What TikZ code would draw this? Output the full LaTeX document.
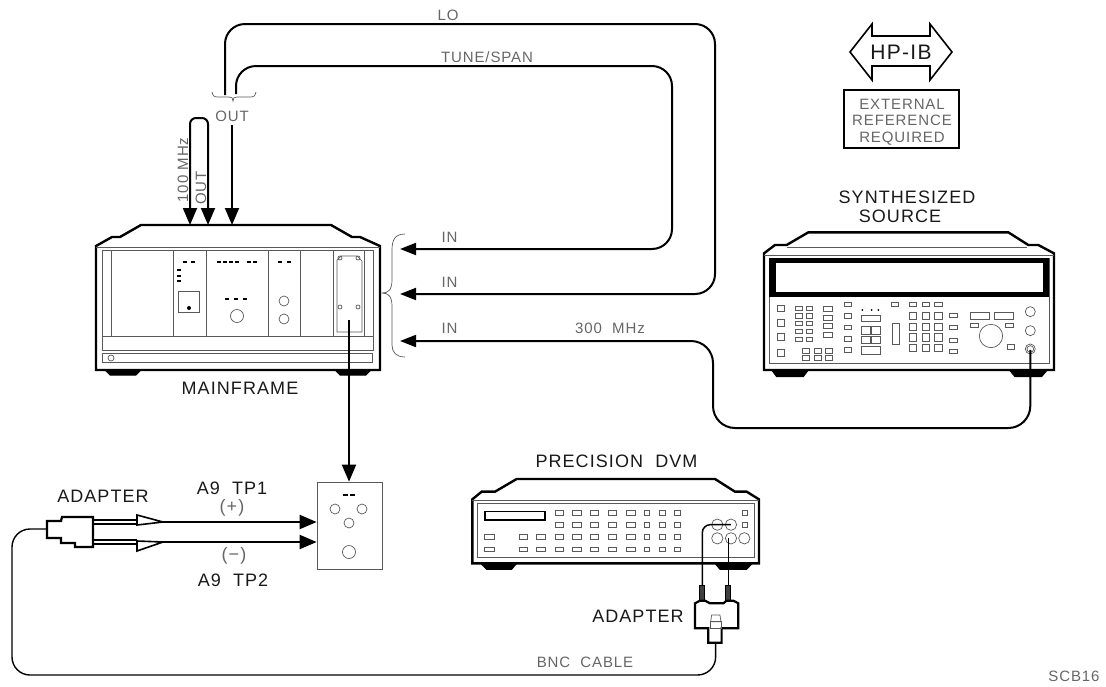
\documentclass[tikz,border=0pt]{standalone}
\usepackage{fontspec}
\setmainfont{Liberation Sans}[LetterSpace=6]
\usepackage{tikz}
\usetikzlibrary{arrows.meta, positioning}
\newcommand{\btn}[4]{\draw[panel] ({#1-#3/2},{#2-#4/2}) rectangle ({#1+#3/2},{#2+#4/2});}
\begin{document}
\begin{tikzpicture}[
    x=1pt, y=-1pt,
    bigtxt/.style={font=\fontsize{18}{20}\selectfont, inner sep=0pt, text=black!90},
    smalltxt/.style={font=\fontsize{15}{17}\selectfont, inner sep=0pt, text=black!60},
    panel/.style={line width=0.7pt, draw=black!65},
    case/.style={line width=2.4pt, line join=miter, draw=black},
    foot/.style={fill=black, draw=black, line width=1pt},
    cable/.style={line width=2pt, draw=black},
    arr/.style={cable, -{Triangle[length=17pt, width=14pt]}},
    inarr/.style={cable, -{Triangle[length=16pt, width=12pt]}},
    zoomed/.style={x=0.3333pt, y=-0.3333pt}
]
    \useasboundingbox (0,0) rectangle (1106,686);

    \node[smalltxt] (lo) at (448,15) {LO};
    \node[smalltxt] (tunespan) at (487,57) {TUNE/SPAN};
    \node[smalltxt] (outtop) at (232,116) {OUT};
    \node[smalltxt, rotate=90] (mhz) at (183,170) {100 MHz};
    \node[smalltxt, rotate=90] (outrot) at (201,188) {OUT};
    \node[smalltxt] (intune) at (449.5,237) {IN};
    \node[smalltxt] (inlo) at (449.5,282) {IN};
    \node[smalltxt] (inref) at (449.5,328) {IN};
    \node[smalltxt] (mhzb) at (610,328) {300\ \ MHz};
    \node[bigtxt] (mainframe) at (240,388) {MAINFRAME};
    \node[bigtxt] (synth) at (907,197) {SYNTHESIZED};
    \node[bigtxt, below=6pt of synth, xshift=-7pt] (source) {SOURCE};
    \node[bigtxt] (dvm) at (616.5,461) {PRECISION\ \ DVM};
    \node[bigtxt] (adapterl) at (103,496) {ADAPTER};
    \node[bigtxt] (adapterr) at (638,616) {ADAPTER};
    \node[bigtxt] (tpa) at (232,488) {A9\ \ TP1};
    \node[smalltxt, font=\fontsize{18}{20}\selectfont] (plus) at (232,508) {(+)};
    \node[smalltxt, font=\fontsize{18}{20}\selectfont] (minus) at (234,556) {(−)};
    \node[bigtxt] (tpb) at (233,580) {A9\ \ TP2};
    \node[smalltxt] (bnc) at (585,662) {BNC\ \ CABLE};
    \node[smalltxt] (scb) at (1074,676) {SCB16};

    \draw[line width=1.6pt] (850,52) -- (872,24) -- (872,36) -- (930,36) -- (930,24) -- (952,52)
        -- (930,80) -- (930,66) -- (872,66) -- (872,80) -- cycle;
    \node[bigtxt, font=\fontsize{21}{23}\selectfont] (hpib) at (901,52) {HP-IB};
    \node[draw, line width=1.6pt, minimum width=115pt, minimum height=58pt, inner sep=0pt] (extbox) at (901.5,119) {};
    \node[smalltxt] (ext) at (902,104) {EXTERNAL};
    \node[smalltxt, below=5.5pt of ext] (refer) {REFERENCE};
    \node[smalltxt, below=5.5pt of refer] (req) {REQUIRED};

    % mainframe
    \draw[case] (96,370) -- (96,246) -- (112,237) -- (120,237) -- (141,225) -- (331,225) -- (352,237)
        -- (360,237) -- (380,246) -- (380,370) -- cycle;
    \draw[foot] (105,370) -- (110,375) -- (136,375) -- (141,370) -- cycle;
    \draw[foot] (335,370) -- (340,375) -- (366,375) -- (371,370) -- cycle;
    \draw[panel] (96,247) -- (380,247);
    \draw[panel] (102,250) rectangle (373,350);
    \draw[panel] (102,336) -- (373,336);
    \foreach \px in {111,173,206,268,300,333,364}
        \draw[panel] (\px,250) -- (\px,336);
    \draw[panel] (102,353) rectangle (372,362);
    \draw[panel] (111,358) circle[radius=3];
    \foreach \px/\py in {183/262,191/262,217/262,223/262,229/262,235/262,247/262,253/262,
        225/299,234/299,243/299,278/262,287/262}
        \draw[line width=1.6pt] (\px,\py) -- ++(4,0);
    \foreach \py in {270,276,281}
        \draw[line width=1.6pt] (177,\py) -- ++(4,0);
    \draw[panel] (178,291) rectangle (199,312);
    \fill (189,308) circle[radius=2];
    \draw[panel] (237,316) circle[radius=6.5];
    \draw[panel] (284,301) circle[radius=5];
    \draw[panel] (284,319) circle[radius=5];
    \draw[panel] (341,256) -- (357,256) -- (362,261) -- (362,332) -- (337,332) -- (337,260) -- cycle;
    \foreach \px/\py in {340/258,358/258,340/307,358/307}
        \draw[panel] (\px,\py) circle[radius=2];

    % source
    \begin{scope}[shift={(750,180)}, zoomed]
        \draw[case] (42,570) -- (42,220) -- (75,195) -- (110,195) -- (175,157) -- (775,157) -- (835,195)
            -- (865,195) -- (912,220) -- (912,570) -- cycle;
        \draw[foot] (65,570) -- (80,590) -- (160,590) -- (175,570) -- cycle;
        \draw[foot] (778,570) -- (795,590) -- (875,590) -- (892,570) -- cycle;
        \draw[panel] (110,203) -- (830,203);
        \draw[panel] (42,225) -- (912,225);
        \draw[panel] (57,235) rectangle (897,550);
        \fill (57,235) rectangle (897,350);
        \fill[white] (78,250) rectangle (880,335);
        \foreach \py in {385,428,470,518} {\btn{93}{\py}{22}{20}}
        \foreach \px in {147,178} \foreach \py in {385,407,430,454,478} {\btn{\px}{\py}{20}{14}}
        \foreach \py in {387,413,438,465} {\btn{233}{\py}{28}{14}}
        \foreach \py in {373,408,442,477,510} {\btn{293}{\py}{20}{14}}
        \foreach \px in {337,365,385} \fill (\px,390) circle[radius=3];
        \draw[panel] (333,407) rectangle (390,425);
        \foreach \px in {348,377} \foreach \py in {451,480} {\btn{\px}{\py}{26}{22}}
        \draw[panel] (333,500) rectangle (390,522);
        \foreach \px in {167,203,236} \foreach \py in {512,534} {\btn{\px}{\py}{22}{14}}
        \btn{435}{373}{20}{14}
        \foreach \px in {489,527,565} {\btn{\px}{372}{22}{12}}
        \draw[panel] (427,430) rectangle (447,492);
        \foreach \px in {489,527,565} \foreach \py in {407,440,472,504} {\btn{\px}{\py}{22}{22}}
        \foreach \py in {407,443,480,513} {\btn{610}{\py}{22}{12}}
        \draw[panel] (660,398) rectangle (718,418);
        \draw[panel] (733,398) rectangle (790,418);
        \btn{674}{435}{24}{12}
        \btn{778}{435}{24}{12}
        \draw[panel] (723,468) circle[radius=35];
        \btn{782}{501}{22}{14}
        \foreach \py in {395,452,507} \draw[panel] (841,\py) circle[radius=15];
        \draw[panel] (841,507) circle[radius=10];
        \coordinate (srcjack) at (841,510);
    \end{scope}

    % dvm
    \begin{scope}[shift={(460,440)}, zoomed]
        \draw[case] (37,370) -- (37,178) -- (65,155) -- (105,155) -- (170,117) -- (765,117) -- (825,155)
            -- (860,155) -- (897,178) -- (897,370) -- cycle;
        \draw[foot] (62,370) -- (80,388) -- (155,388) -- (170,370) -- cycle;
        \draw[foot] (765,370) -- (780,388) -- (860,388) -- (877,370) -- cycle;
        \draw[panel] (37,180) -- (897,180);
        \draw[panel] (52,190) rectangle (882,352);
        \draw[line width=1.2pt] (75,215) rectangle (255,240);
        \foreach \py in {219,254,291,328} {
            \foreach \px in {298,350,403,457,513} {\btn{\px}{\py}{26}{14}}
            \foreach \px in {560,607,652} {\btn{\px}{\py}{16}{14}}
        }
        \foreach \py in {291,328} {
            \btn{88}{\py}{28}{14}
            \btn{190}{\py}{26}{14}
            \btn{243}{\py}{26}{14}
        }
        \foreach \py in {219,255} {\btn{855}{\py}{16}{16}}
        \foreach \px/\py in {772/254,813/254,772/295,813/295,853/295}
            \draw[panel] (\px,\py) circle[radius=17];
        \coordinate (dvmhi) at (813,254);
        \coordinate (dvmlo) at (805,295);
        \coordinate (plughi) at (727,436);
        \coordinate (pluglo) at (805,436);
        \coordinate (bncend) at (767,610);
        \draw[line width=1.5pt, rounded corners=8pt] (dvmhi) -| (plughi);
        \draw[line width=1.5pt] (dvmlo) -- (pluglo);
        \foreach \px in {727,805}
            \draw[fill=black!75, line width=1pt] (\px-7,436) rectangle (\px+7,482);
        \draw[line width=2.2pt, fill=white] (705,490) -- (720,482) -- (735,482) -- (750,490) -- (790,490)
            -- (800,482) -- (820,482) -- (835,490) -- (835,565) -- (785,565) -- (785,608) -- (745,608)
            -- (745,565) -- (705,565) -- cycle;
        \draw[panel] (752,545) -- (755,525) -- (780,525) -- (783,545) -- cycle;
        \draw[panel] (752,545) rectangle (783,565);
    \end{scope}

    % test box
    \node[draw, panel, minimum width=65pt, minimum height=87pt, inner sep=0pt] (tbox) at (349.5,525.5) {};
    \draw[line width=1.6pt] (343,495) -- ++(5,0) (350,495) -- ++(5,0);
    \draw[panel] (335,509) circle[radius=5];
    \draw[panel] (362,509) circle[radius=5];
    \draw[panel] (349,523) circle[radius=5];
    \draw[panel] (349,552) circle[radius=6.5];

    % left adapter
    \draw[line width=1.2pt] (93,520) -- (137,520) (93,524) -- (137,524);
    \draw[line width=1.2pt] (93,540) -- (137,540) (93,544) -- (137,544);
    \draw[line width=1.6pt, fill=white] (137,515) -- (163,522) -- (137,525) -- cycle;
    \draw[line width=1.6pt, fill=white] (137,541) -- (163,542) -- (137,551) -- cycle;
    \draw[line width=2.2pt, fill=white] (47,521) -- (61,521) -- (62,517) -- (93,517) -- (93,547) -- (75,547)
        -- (75,543) -- (61,543) -- (61,538) -- (47,538) -- cycle;

    % connectors
    \coordinate (loout) at (225,95);
    \coordinate (lobend) at (715,24);
    \coordinate (inlotip) at (400,294);
    \coordinate (tuneout) at (236,94);
    \coordinate (tunebend) at (672,66);
    \coordinate (intunetip) at (400,249);
    \coordinate (refbend) at (713,428);
    \coordinate (inreftip) at (400,341);
    \coordinate (mfa) at (190,225);
    \coordinate (mfb) at (208,225);
    \coordinate (mfc) at (232,225);
    \coordinate (loopa) at (190,118);
    \coordinate (loopb) at (208,118);
    \coordinate (outstart) at (232,125);
    \coordinate (modstart) at (349,320);
    \coordinate (tpaend) at (163,522);
    \coordinate (tpbend) at (163,542);
    \coordinate (adapterend) at (47,529);
    \coordinate (leftbend) at (12,675);
    \draw[inarr, rounded corners=20pt] (loout) |- (lobend) |- (inlotip);
    \draw[inarr, rounded corners=20pt] (tuneout) |- (tunebend) |- (intunetip);
    \draw[inarr, rounded corners=22pt] (srcjack) |- (refbend) |- (inreftip);
    \draw[cable, rounded corners=6pt, {Triangle[length=17pt, width=14pt]}-{Triangle[length=17pt, width=14pt]}]
        (mfa) -- (loopa) -- (loopb) -- (mfb);
    \draw[arr] (outstart) -- (mfc);
    \draw[arr] (modstart) -- (tbox.north -| modstart);
    \draw[arr] (tpaend) -- (tbox.west |- tpaend);
    \draw[arr] (tpbend) -- (tbox.west |- tpbend);
    \draw[line width=1.4pt, rounded corners=18pt] (adapterend) -| (leftbend) -| (bncend);

    % braces
    \draw[panel] (212,92) .. controls (213,96) and (214,97) .. (218,97) -- (229,97)
        .. controls (232,97) and (233,98) .. (233,101) .. controls (233,98) and (234,97) .. (237,97)
        -- (250,97) .. controls (254,97) and (255,96) .. (256,92);
    \draw[panel] (405,234) .. controls (395,234) and (392,240) .. (392,250) -- (392,280)
        .. controls (392,290) and (388,293) .. (382,293) .. controls (388,293) and (392,296) .. (392,306)
        -- (392,345) .. controls (392,352) and (396,357) .. (405,357);
\end{tikzpicture}
\end{document}
